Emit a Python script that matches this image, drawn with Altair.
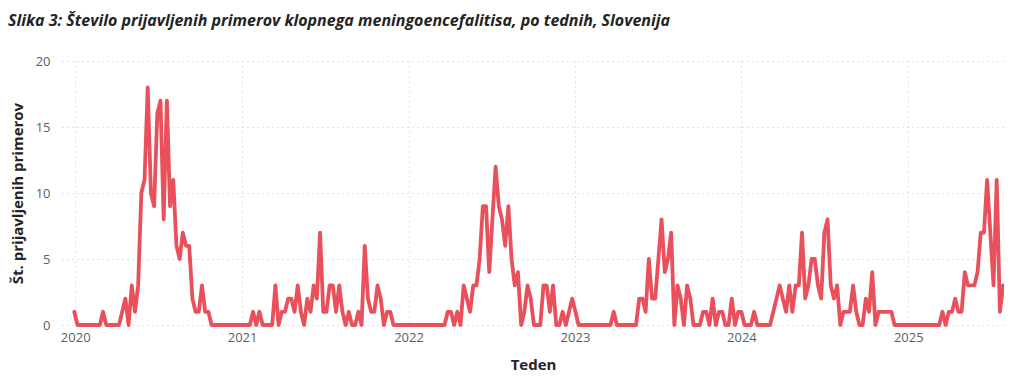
import altair as alt
import pandas as pd

# Weekly reported cases (weeks starting Monday 2019-12-30)
cases_2020 = [1, 0, 0, 0, 0, 0, 0, 0, 0, 1, 0, 0, 0, 0, 0,
              1, 2, 0, 3, 1, 3, 10, 11, 18, 10, 9, 16, 17, 8, 17, 9, 11, 6, 5, 7,
              6, 6, 2, 1, 1, 3, 1, 1,
              0, 0, 0, 0, 0, 0, 0, 0, 0, 0]
cases_2021 = [0, 0, 0, 1, 0, 1, 0, 0, 0, 0, 3, 0, 1, 1, 2, 2, 1, 3, 1, 0,
              2, 1, 3, 2, 7, 1, 1, 3, 3, 1, 3, 1, 0, 1, 0, 0, 1, 0, 6, 2,
              1, 1, 3, 2, 0, 1, 1, 0, 0, 0, 0, 0]
cases_2022 = [0, 0, 0, 0, 0, 0, 0, 0, 0, 0, 0, 0,
              1, 1, 0, 1, 0, 3, 2, 1, 3, 3, 5, 9, 9, 4, 8, 12, 9, 8, 6, 9,
              5, 3, 4, 0, 1, 3, 2, 0, 0, 0, 3, 3, 1, 3, 0, 0, 1, 0, 1, 2]
cases_2023 = [1, 0, 0, 0, 0, 0, 0, 0, 0, 0, 0, 0, 1, 0, 0, 0, 0, 0, 0, 0,
              2, 2, 1, 5, 2, 2, 5, 8, 4, 5, 7, 0, 3, 2, 0, 3, 2, 0, 0, 0,
              1, 1, 0, 2, 0, 1, 1, 0, 0, 2, 0, 1]
cases_2024 = [1, 0, 0, 0, 1, 0, 0, 0, 0, 0,
              1, 2, 3, 2, 1, 3, 1, 3, 3, 7, 2, 3, 5, 5, 3, 2, 7, 8, 3, 2,
              3, 0, 1, 1, 1, 3, 1, 0, 0, 2, 1, 4, 0, 1, 1, 1, 1, 1,
              0, 0, 0, 0]
cases_2025 = [0, 0, 0, 0, 0, 0, 0, 0, 0, 0, 0,
              1, 0, 1, 1, 2, 1, 1, 4, 3, 3, 3, 4, 7, 7, 11, 7, 3, 11, 1, 3]

first_week = "2019-12-30"
year_ticks = [2020, 2021, 2022, 2023, 2024, 2025]
y_ticks = [0, 5, 10, 15, 20]

weekly = cases_2020 + cases_2021 + cases_2022 + cases_2023 + cases_2024 + cases_2025
dates = pd.date_range(first_week, periods=len(weekly), freq="7D").strftime("%Y-%m-%dT00:00:00")
df = pd.DataFrame({"teden": list(dates), "primeri": weekly})

FONT = "Open Sans"

chart = alt.Chart(df).mark_line(
    color="#E8505B", strokeWidth=3.8, strokeJoin="round", strokeCap="round"
).encode(
    x=alt.X(
        "teden:T",
        title="Teden",
        scale=alt.Scale(domain=[alt.DateTime(year=2019, month=12, date=3),
                                alt.DateTime(year=2025, month=7, date=30)]),
        axis=alt.Axis(
            values=[alt.DateTime(year=y, month=1, date=1) for y in year_ticks],
            format="%Y", labelAlign="center", labelPadding=6,
            titleY=39, titleBaseline="middle",
        ),
    ),
    y=alt.Y(
        "primeri:Q",
        title="Št. prijavljenih primerov",
        scale=alt.Scale(domain=[0, 20], nice=False),
        axis=alt.Axis(values=y_ticks, labelPadding=12,
                      titleX=-45, titleBaseline="middle"),
    ),
).properties(
    width=942,
    height=264,
    title=alt.TitleParams(
        "Slika 3: Število prijavljenih primerov klopnega meningoencefalitisa, po tednih, Slovenija",
        anchor="start", frame="group", dx=-54, offset=26,
        font=FONT, fontSize=16, fontWeight="bold", fontStyle="italic", color="#252423",
    ),
    autosize=alt.AutoSizeParams(type="none"),
    padding={"left": 54, "top": 53, "right": 0, "bottom": 48},
).configure_view(
    stroke=None
).configure_axis(
    grid=True, gridColor="#C8C6C4", gridDash=[1, 4], gridWidth=1,
    domain=False, ticks=False,
    labelFont=FONT, labelFontSize=13, labelColor="#605E5C",
    titleFont=FONT, titleFontSize=15, titleFontWeight="bold", titleColor="#252423",
)

chart.save("out.html", embed_options={"renderer": "svg", "actions": False})
